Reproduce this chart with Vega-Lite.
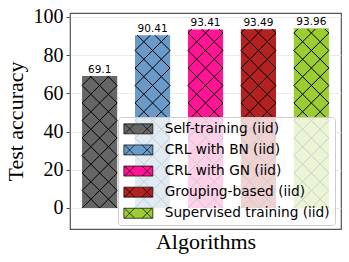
{
  "$schema": "https://vega.github.io/schema/vega-lite/v6.json",
  "width": 271,
  "height": 216,
  "autosize": {"type": "none"},
  "padding": {"left": 70, "top": 13, "right": 8, "bottom": 33},
  "background": "white",
  "config": {
    "view": {"stroke": "#555555", "strokeWidth": 1.2},
    "font": "DejaVu Sans",
    "legend": {
      "orient": "none",
      "legendX": 48,
      "legendY": 104,
      "fillColor": "rgba(255,255,255,0.8)",
      "strokeColor": "#cccccc",
      "cornerRadius": 3,
      "padding": 5,
      "labelFont": "DejaVu Sans",
      "labelFontSize": 13.7,
      "labelColor": "black",
      "labelLimit": 300,
      "symbolType": "M-2.417,-0.833H2.417V0.833H-2.417Z M-2.292,-0.833L-0.625,0.833 M-2.292,0.833L-0.625,-0.833 M0.625,-0.833L2.292,0.833 M0.625,0.833L2.292,-0.833",
      "symbolSize": 144,
      "symbolOffset": 8.5,
      "symbolStrokeColor": "black",
      "symbolStrokeWidth": 0.7,
      "labelOffset": 19.5,
      "rowPadding": 6.1
    }
  },
  "data": {
    "values": [
      {"algorithm": "Self-training (iid)", "acc": 69.1},
      {"algorithm": "CRL with BN (iid)", "acc": 90.41},
      {"algorithm": "CRL with GN (iid)", "acc": 93.41},
      {"algorithm": "Grouping-based (iid)", "acc": 93.49},
      {"algorithm": "Supervised training (iid)", "acc": 93.96}
    ]
  },
  "encoding": {
    "x": {
      "field": "algorithm",
      "type": "nominal",
      "sort": null,
      "scale": {"paddingInner": 0.336, "paddingOuter": 0.228},
      "axis": {
        "title": "Algorithms",
        "labels": false,
        "ticks": false,
        "domain": false,
        "titleFont": "Liberation Serif",
        "titleFontSize": 22,
        "titleFontWeight": "normal",
        "titleColor": "black",
        "titlePadding": 2
      }
    }
  },
  "layer": [
    {
      "mark": {"type": "bar"},
      "encoding": {
        "y": {
          "field": "acc",
          "type": "quantitative",
          "scale": {"domain": [-11, 102], "nice": false, "zero": false},
          "axis": {
            "values": [0, 20, 40, 60, 80, 100],
            "title": "Test accuracy",
            "titleFont": "Liberation Serif",
            "titleFontSize": 22,
            "titleFontWeight": "normal",
            "titleColor": "black",
            "titlePadding": 5.5,
            "labelFont": "Liberation Serif",
            "labelFontSize": 20,
            "labelColor": "black",
            "labelPadding": 3,
            "labelFlush": false,
            "tickColor": "#555555",
            "tickSize": 4,
            "domain": false,
            "grid": true,
            "gridColor": "#ebebeb"
          }
        },
        "y2": {"datum": 0},
        "color": {
          "field": "algorithm",
          "type": "nominal",
          "sort": null,
          "scale": {
            "domain": ["Self-training (iid)", "CRL with BN (iid)", "CRL with GN (iid)", "Grouping-based (iid)", "Supervised training (iid)"],
            "range": ["#666666", "#6a9bc8", "#ff1493", "#b22222", "#9acd32"]
          },
          "legend": {"title": null}
        }
      }
    },
    {
      "mark": {"type": "point", "filled": false, "stroke": "black", "strokeWidth": 1, "size": 4, "opacity": 1},
      "encoding": {
        "y": {"datum": 0},
        "shape": {
          "field": "acc",
          "type": "nominal",
          "legend": null,
          "scale": {
            "domain": [69.1, 90.41, 93.41, 93.49, 93.96],
            "range": [
              "M-17.5,-17.5L0,0M-17.5,-35L17.5,0M-17.5,-52.5L17.5,-17.5M-17.5,-70L17.5,-35M-17.5,-87.5L17.5,-52.5M-17.5,-105L17.5,-70M-17.5,-122.5L17.5,-87.5M-9.6,-132.1L17.5,-105M7.9,-132.1L17.5,-122.5M17.5,-17.5L0,0M17.5,-35L-17.5,0M17.5,-52.5L-17.5,-17.5M17.5,-70L-17.5,-35M17.5,-87.5L-17.5,-52.5M17.5,-105L-17.5,-70M17.5,-122.5L-17.5,-87.5M9.6,-132.1L-17.5,-105M-7.9,-132.1L-17.5,-122.5",
              "M-17.5,-17.5L0,0M-17.5,-35L17.5,0M-17.5,-52.5L17.5,-17.5M-17.5,-70L17.5,-35M-17.5,-87.5L17.5,-52.5M-17.5,-105L17.5,-70M-17.5,-122.5L17.5,-87.5M-17.5,-140L17.5,-105M-17.5,-157.5L17.5,-122.5M-15.3,-172.8L17.5,-140M2.2,-172.8L17.5,-157.5M17.5,-17.5L0,0M17.5,-35L-17.5,0M17.5,-52.5L-17.5,-17.5M17.5,-70L-17.5,-35M17.5,-87.5L-17.5,-52.5M17.5,-105L-17.5,-70M17.5,-122.5L-17.5,-87.5M17.5,-140L-17.5,-105M17.5,-157.5L-17.5,-122.5M15.3,-172.8L-17.5,-140M-2.2,-172.8L-17.5,-157.5",
              "M-17.5,-17.5L0,0M-17.5,-35L17.5,0M-17.5,-52.5L17.5,-17.5M-17.5,-70L17.5,-35M-17.5,-87.5L17.5,-52.5M-17.5,-105L17.5,-70M-17.5,-122.5L17.5,-87.5M-17.5,-140L17.5,-105M-17.5,-157.5L17.5,-122.5M-17.5,-175L17.5,-140M-4,-179L17.5,-157.5M13.5,-179L17.5,-175M17.5,-17.5L0,0M17.5,-35L-17.5,0M17.5,-52.5L-17.5,-17.5M17.5,-70L-17.5,-35M17.5,-87.5L-17.5,-52.5M17.5,-105L-17.5,-70M17.5,-122.5L-17.5,-87.5M17.5,-140L-17.5,-105M17.5,-157.5L-17.5,-122.5M17.5,-175L-17.5,-140M4,-179L-17.5,-157.5M-13.5,-179L-17.5,-175",
              "M-17.5,-17.5L0,0M-17.5,-35L17.5,0M-17.5,-52.5L17.5,-17.5M-17.5,-70L17.5,-35M-17.5,-87.5L17.5,-52.5M-17.5,-105L17.5,-70M-17.5,-122.5L17.5,-87.5M-17.5,-140L17.5,-105M-17.5,-157.5L17.5,-122.5M-17.5,-175L17.5,-140M-4,-179L17.5,-157.5M13.5,-179L17.5,-175M17.5,-17.5L0,0M17.5,-35L-17.5,0M17.5,-52.5L-17.5,-17.5M17.5,-70L-17.5,-35M17.5,-87.5L-17.5,-52.5M17.5,-105L-17.5,-70M17.5,-122.5L-17.5,-87.5M17.5,-140L-17.5,-105M17.5,-157.5L-17.5,-122.5M17.5,-175L-17.5,-140M4,-179L-17.5,-157.5M-13.5,-179L-17.5,-175",
              "M-17.5,-17.5L0,0M-17.5,-35L17.5,0M-17.5,-52.5L17.5,-17.5M-17.5,-70L17.5,-35M-17.5,-87.5L17.5,-52.5M-17.5,-105L17.5,-70M-17.5,-122.5L17.5,-87.5M-17.5,-140L17.5,-105M-17.5,-157.5L17.5,-122.5M-17.5,-175L17.5,-140M-4,-179L17.5,-157.5M13.5,-179L17.5,-175M17.5,-17.5L0,0M17.5,-35L-17.5,0M17.5,-52.5L-17.5,-17.5M17.5,-70L-17.5,-35M17.5,-87.5L-17.5,-52.5M17.5,-105L-17.5,-70M17.5,-122.5L-17.5,-87.5M17.5,-140L-17.5,-105M17.5,-157.5L-17.5,-122.5M17.5,-175L-17.5,-140M4,-179L-17.5,-157.5M-13.5,-179L-17.5,-175"
            ]
          }
        }
      }
    },
    {
      "mark": {"type": "text", "baseline": "alphabetic", "dy": -3, "fontSize": 10.5, "font": "DejaVu Sans", "color": "black"},
      "encoding": {
        "y": {"field": "acc", "type": "quantitative"},
        "text": {"field": "acc", "type": "quantitative"}
      }
    }
  ]
}
